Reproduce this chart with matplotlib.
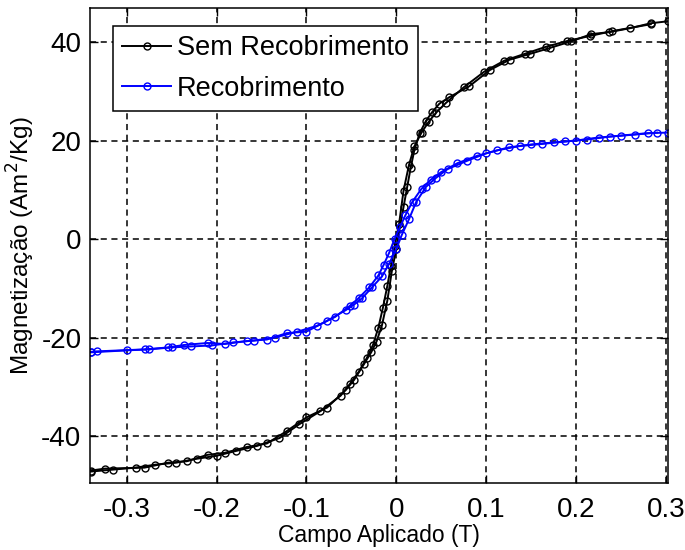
import matplotlib
matplotlib.use("Agg")
import matplotlib.pyplot as plt

# Sem Recobrimento - ramo subindo / descendo
H_sem_up = [-0.340, -0.324, -0.280, -0.254, -0.233, -0.210, -0.191, -0.166, -0.144, -0.122,
            -0.100, -0.077, -0.056, -0.047, -0.036, -0.028, -0.022, -0.016, -0.010, -0.005,
            0.000, 0.004, 0.008, 0.012, 0.016, 0.020, 0.026, 0.033, 0.040, 0.048,
            0.059, 0.081, 0.104, 0.126, 0.149, 0.171, 0.194, 0.217, 0.237, 0.260, 0.283, 0.302]
M_sem_up = [-47.0, -46.6, -46.4, -45.4, -45.1, -43.8, -43.4, -42.2, -41.5, -39.0,
            -36.2, -34.2, -30.6, -28.6, -25.4, -23.0, -20.8, -17.5, -12.5, -6.5,
            -2.0, 2.5, 6.5, 10.5, 14.5, 18.0, 21.5, 24.0, 25.8, 27.5,
            28.8, 31.0, 34.3, 36.4, 37.6, 38.8, 40.1, 41.6, 42.0, 42.8, 43.8, 44.2]
H_sem_dn = [0.283, 0.240, 0.215, 0.190, 0.166, 0.143, 0.120, 0.098, 0.075, 0.055,
            0.044, 0.036, 0.028, 0.020, 0.014, 0.008, 0.003, -0.002, -0.006, -0.010,
            -0.015, -0.020, -0.026, -0.033, -0.042, -0.052, -0.062, -0.085, -0.108, -0.130,
            -0.155, -0.178, -0.200, -0.222, -0.245, -0.268, -0.290, -0.315, -0.340]
M_sem_dn = [43.6, 42.2, 41.2, 40.2, 39.0, 37.6, 36.2, 34.0, 30.8, 27.6,
            25.6, 23.8, 21.6, 18.8, 15.0, 9.8, 3.0, -1.5, -5.5, -9.5,
            -14.0, -18.0, -21.5, -24.2, -27.0, -29.5, -31.8, -35.0, -37.6, -40.4,
            -42.0, -43.0, -44.0, -44.6, -45.4, -45.8, -46.4, -46.8, -47.2]

# Recobrimento
H_rec_up = [-0.340, -0.333, -0.280, -0.254, -0.236, -0.210, -0.191, -0.166, -0.144, -0.122,
            -0.100, -0.077, -0.056, -0.047, -0.038, -0.027, -0.016, -0.008, 0.000, 0.006,
            0.014, 0.022, 0.033, 0.044, 0.057, 0.079, 0.100, 0.125, 0.150, 0.175,
            0.200, 0.225, 0.250, 0.280, 0.302]
M_rec_up = [-22.9, -22.8, -22.4, -22.0, -21.5, -21.1, -21.3, -20.7, -20.4, -19.1,
            -18.8, -16.6, -14.4, -13.3, -12.0, -9.8, -7.6, -5.0, -2.0, 0.8,
            4.0, 7.5, 10.6, 12.4, 14.2, 15.9, 17.4, 18.6, 19.2, 19.6,
            20.0, 20.6, 21.0, 21.5, 21.6]
H_rec_dn = [0.290, 0.265, 0.238, 0.212, 0.188, 0.162, 0.138, 0.112, 0.090, 0.068,
            0.050, 0.038, 0.028, 0.018, 0.010, 0.004, -0.002, -0.008, -0.014, -0.020,
            -0.030, -0.042, -0.052, -0.068, -0.088, -0.110, -0.135, -0.158, -0.182, -0.205,
            -0.228, -0.250, -0.275, -0.300, -0.340]
M_rec_dn = [21.6, 21.2, 20.8, 20.2, 19.8, 19.3, 18.9, 18.0, 16.9, 15.4,
            13.6, 12.0, 10.2, 7.6, 4.8, 2.4, 0.0, -2.8, -5.2, -7.4,
            -9.8, -12.0, -13.6, -15.8, -17.6, -18.8, -20.0, -20.6, -21.0, -21.6,
            -21.8, -22.0, -22.4, -22.6, -23.0]

xticks = [-0.3, -0.2, -0.1, 0, 0.1, 0.2, 0.3]
xticklabels = ["-0.3", "-0.2", "-0.1", "0", "0.1", "0.2", "0.3"]
yticks = [-40, -20, 0, 20, 40]

plt.rcParams["font.family"] = ["Liberation Sans", "DejaVu Sans"]
plt.rcParams["axes.unicode_minus"] = False

fig = plt.figure(figsize=(6.85, 5.5), dpi=100)
ax = fig.add_axes([0.131, 0.122, 0.844, 0.8635])

mk = dict(marker="o", markersize=5, markerfacecolor="none", markeredgewidth=1.0, linewidth=1.4)
ax.plot(H_sem_up, M_sem_up, color="black", label="Sem Recobrimento", **mk)
ax.plot(H_sem_dn, M_sem_dn, color="black", **mk)
ax.plot(H_rec_up, M_rec_up, color="#0000ff", label="Recobrimento", **mk)
ax.plot(H_rec_dn, M_rec_dn, color="#0000ff", **mk)

ax.set_xlim(-0.341, 0.302)
ax.set_ylim(-49.5, 46.9)
ax.set_xticks(xticks)
ax.set_xticklabels(xticklabels)
ax.set_yticks(yticks)
ax.tick_params(direction="in", length=6, width=1, top=True, right=True, labelsize=20)
ax.tick_params(axis="x", pad=10)
ax.tick_params(axis="y", pad=6)
ax.grid(True, color="black", linestyle=(0, (4, 3)), linewidth=1.1)
for s in ax.spines.values():
    s.set_linewidth(1.1)

ax.set_xlabel("Campo Aplicado (T)", fontsize=16.5, labelpad=1)
ax.set_ylabel("Magnetização (Am$^2$/Kg)", fontsize=17.5, labelpad=3)

leg = ax.legend(loc="upper left", bbox_to_anchor=(0.04, 0.963), borderaxespad=0,
                fontsize=19.5, fancybox=False, framealpha=1, edgecolor="black",
                handlelength=1.8, handletextpad=0.2, borderpad=0.35, labelspacing=0.55)
leg.get_frame().set_linewidth(1.1)

fig.savefig("out.png", dpi=100)
